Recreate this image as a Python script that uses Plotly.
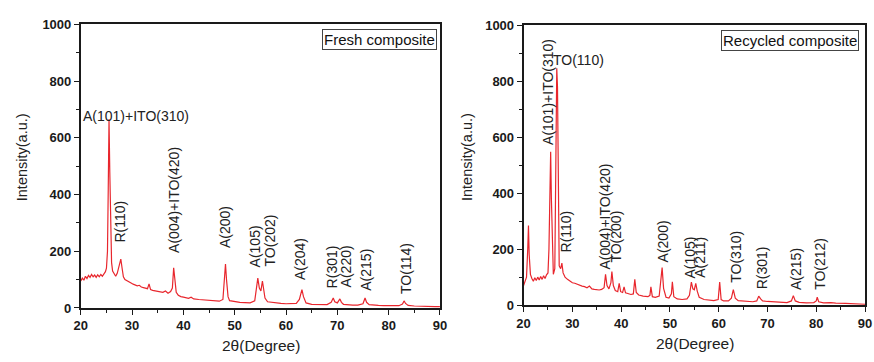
import plotly.graph_objects as go

# ---- Fresh composite XRD pattern (2-theta in degrees, intensity in a.u.) ----
fresh_2theta = [
    20.0, 20.3, 20.6, 20.9, 21.2, 21.5, 21.8, 22.1, 22.4, 22.7,
    23.0, 23.3, 23.6, 23.9, 24.2, 24.5, 24.8, 25.0, 25.2, 25.35,
    25.5, 25.65, 25.8, 26.0, 26.2, 26.5, 26.8, 27.1, 27.3, 27.55,
    27.8, 28.05, 28.3, 28.6, 29.0, 29.4, 29.8, 30.2, 30.6, 31.0,
    31.4, 31.8, 32.2, 32.6, 33.0, 33.3, 33.6, 34.0, 34.5, 35.0,
    35.5, 36.0, 36.5, 37.0, 37.5, 37.85, 38.1, 38.3, 38.6, 39.0,
    39.5, 40.0, 40.5, 41.0, 41.5, 42.0, 43.0, 44.0, 45.0, 46.0,
    47.0, 47.7, 48.0, 48.2, 48.4, 48.7, 49.0, 50.0, 51.0, 52.0,
    53.0, 53.9, 54.2, 54.5, 54.8, 55.1, 55.4, 55.6, 55.9, 56.4,
    57.0, 58.0, 59.0, 60.0, 61.0, 62.0, 62.6, 62.9, 63.1, 63.4,
    63.9, 65.0, 66.0, 67.0, 68.0, 68.8, 69.2, 69.5, 70.0, 70.5,
    70.8, 71.2, 72.0, 73.0, 74.0, 75.0, 75.4, 75.7, 76.2, 77.0,
    78.0, 79.0, 80.0, 81.0, 82.0, 82.7, 83.0, 83.3, 83.8, 85.0,
    86.0, 87.0, 88.0, 89.0, 90.0,
]
fresh_intensity = [
    95, 105, 98, 112, 104, 115, 108, 118, 110, 116,
    108, 117, 110, 118, 112, 120, 128, 140, 200, 420,
    665, 480, 250, 160, 130, 118, 112, 122, 140, 150,
    172, 140, 110, 100, 95, 90, 88, 84, 82, 78,
    80, 74, 72, 70, 68, 85, 65, 62, 60, 58,
    56, 55, 60, 52, 58, 70, 142, 95, 55, 45,
    40, 38, 36, 34, 38, 32, 30, 28, 27, 25,
    24, 30, 95, 155, 100, 40, 26, 22, 20, 19,
    18, 25, 60, 105, 70, 60, 95, 75, 35, 22,
    20, 17, 16, 15, 15, 16, 30, 50, 65, 40,
    18, 13, 12, 12, 12, 20, 35, 22, 18, 32,
    20, 13, 11, 10, 10, 15, 35, 20, 12, 10,
    9, 8, 8, 8, 8, 14, 25, 16, 9, 7,
    6, 6, 6, 5, 5,
]

# ---- Recycled composite XRD pattern ----
recycled_2theta = [
    20.0, 20.3, 20.6, 20.85, 21.0, 21.15, 21.4, 21.7, 22.0, 22.3,
    22.6, 22.9, 23.2, 23.5, 23.8, 24.1, 24.4, 24.7, 25.0, 25.2,
    25.4, 25.55, 25.7, 25.9, 26.1, 26.4, 26.6, 26.8, 26.95, 27.1,
    27.3, 27.6, 27.85, 28.1, 28.5, 29.0, 29.5, 30.0, 30.5, 31.0,
    31.5, 32.0, 32.5, 33.0, 33.5, 34.0, 34.5, 35.0, 35.5, 36.0,
    36.5, 36.8, 37.1, 37.5, 37.9, 38.1, 38.4, 38.8, 39.3, 39.6,
    39.9, 40.3, 40.6, 40.9, 41.5, 42.0, 42.5, 42.8, 43.1, 43.6,
    44.5, 45.5, 45.9, 46.1, 46.4, 47.0, 47.8, 48.2, 48.4, 48.7,
    49.2, 49.8, 50.3, 50.5, 50.8, 51.5, 52.5, 53.5, 54.0, 54.4,
    54.7, 55.0, 55.3, 55.6, 56.0, 57.0, 58.0, 59.0, 59.9, 60.2,
    60.5, 61.0, 62.0, 62.6, 63.0, 63.4, 64.0, 65.0, 66.0, 67.0,
    67.8, 68.2, 68.6, 69.0, 70.0, 71.0, 72.0, 73.0, 74.0, 74.9,
    75.3, 75.7, 76.5, 78.0, 79.5, 80.0, 80.2, 80.5, 81.5, 83.0,
    84.0, 86.0, 88.0, 90.0,
]
recycled_intensity = [
    70, 85, 100, 200, 284, 180, 110, 95, 85, 98,
    88, 100, 90, 102, 92, 105, 95, 108, 115, 200,
    450, 548, 380, 160, 110, 130, 400, 846, 780, 300,
    140, 130, 150, 115, 100, 92, 85, 80, 78, 74,
    72, 68, 66, 62, 68, 58, 56, 55, 54, 56,
    62, 110, 70, 58, 80, 120, 70, 52, 48, 78,
    48, 45, 65, 44, 40, 38, 40, 92, 45, 36,
    32, 30, 35, 65, 30, 28, 32, 90, 134, 60,
    28, 25, 40, 83, 30, 22, 20, 22, 35, 82,
    58, 55, 78, 50, 28, 20, 17, 16, 20, 82,
    20, 15, 15, 25, 55, 25, 16, 14, 13, 12,
    15, 32, 22, 15, 13, 12, 10, 9, 9, 15,
    34, 15, 10, 8, 9, 15, 28, 12, 8, 9,
    7, 6, 5, 3,
]

# ---- Peak labels: (text, 2-theta, intensity at label base) ----
fresh_vertical_labels = ["R(110)", "A(004)+ITO(420)", "A(200)", "A(105)", "TO(202)",
                         "A(204)", "R(301)", "A(220)", "A(215)", "TO(114)"]
fresh_vertical_x = [27.6, 38.3, 48.0, 53.9, 56.8, 62.7, 69.0, 71.6, 75.6, 83.4]
fresh_vertical_y = [223, 186, 206, 135, 138, 91, 61, 64, 54, 41]
fresh_main_label = "A(101)+ITO(310)"
fresh_main_x, fresh_main_y = 20.0, 675

recycled_vertical_labels = ["A(101)+ITO(310)", "R(110)", "A(004)+ITO(420)", "TO(200)",
                            "A(200)", "A(105)", "A(211)", "TO(310)", "R(301)",
                            "A(215)", "TO(212)"]
recycled_vertical_x = [25.0, 28.7, 36.5, 38.9, 48.5, 54.2, 56.2, 63.5, 68.9, 75.7, 80.8]
recycled_vertical_y = [565, 181, 120, 144, 144, 89, 89, 72, 48, 48, 48]
recycled_main_label = "TO(110)"
recycled_main_x, recycled_main_y = 25.7, 877

panel_names = ["Fresh composite", "Recycled composite"]
x_ticks = [20, 30, 40, 50, 60, 70, 80, 90]
y_ticks = [0, 200, 400, 600, 800, 1000]

W, H = 874, 362
RED = "#e8262d"
AXIS = "#1a1a1a"
FONT = "Liberation Sans, Arial, sans-serif"

fig = go.Figure()
fig.add_trace(go.Scatter(x=fresh_2theta, y=fresh_intensity, mode="lines",
                         line=dict(color=RED, width=1.2), xaxis="x", yaxis="y",
                         showlegend=False, hoverinfo="skip"))
fig.add_trace(go.Scatter(x=recycled_2theta, y=recycled_intensity, mode="lines",
                         line=dict(color=RED, width=1.2), xaxis="x2", yaxis="y2",
                         showlegend=False, hoverinfo="skip"))

tick_font = dict(family=FONT, size=13, color="#1a1a1a", weight="bold")


def xaxis_style(domain, anchor):
    return dict(domain=domain, anchor=anchor, range=[20, 90], tickvals=x_ticks,
                ticks="outside", ticklen=5, tickwidth=1.4, tickcolor=AXIS,
                minor=dict(dtick=5, ticks="outside", ticklen=3, tickcolor=AXIS),
                showline=True, linecolor=AXIS, linewidth=1.8, mirror=True,
                showgrid=False, zeroline=False, tickfont=tick_font)


def yaxis_style(domain, anchor):
    return dict(domain=domain, anchor=anchor, range=[0, 1000], tickvals=y_ticks,
                ticks="outside", ticklen=5, tickwidth=1.4, tickcolor=AXIS,
                minor=dict(dtick=100, ticks="outside", ticklen=3, tickcolor=AXIS),
                showline=True, linecolor=AXIS, linewidth=1.8, mirror=True,
                showgrid=False, zeroline=False, tickfont=tick_font)


annotations = []
label_font = dict(family=FONT, size=14, color="#222")

for txt, x, y in zip(fresh_vertical_labels, fresh_vertical_x, fresh_vertical_y):
    annotations.append(dict(text=txt, x=x, y=y, xref="x", yref="y", textangle=-90,
                            xanchor="center", yanchor="bottom", showarrow=False,
                            font=label_font))
annotations.append(dict(text=fresh_main_label, x=fresh_main_x, y=fresh_main_y,
                        xref="x", yref="y", xanchor="left", yanchor="middle",
                        showarrow=False, font=label_font))

for txt, x, y in zip(recycled_vertical_labels, recycled_vertical_x, recycled_vertical_y):
    annotations.append(dict(text=txt, x=x, y=y, xref="x2", yref="y2", textangle=-90,
                            xanchor="center", yanchor="bottom", showarrow=False,
                            font=label_font))
annotations.append(dict(text=recycled_main_label, x=recycled_main_x, y=recycled_main_y,
                        xref="x2", yref="y2", xanchor="left", yanchor="middle",
                        showarrow=False, font=label_font))

# Panel name boxes
box_font = dict(family=FONT, size=15, color="#111")
annotations.append(dict(text=panel_names[0], x=437 / W, y=1 - 34 / H, xref="paper",
                        yref="paper", xanchor="right", yanchor="middle", showarrow=False,
                        font=box_font, bordercolor="#444", borderwidth=1, borderpad=1,
                        bgcolor="white"))
annotations.append(dict(text=panel_names[1], x=866 / W, y=1 - 35 / H, xref="paper",
                        yref="paper", xanchor="right", yanchor="middle", showarrow=False,
                        font=box_font, bordercolor="#444", borderwidth=1, borderpad=1,
                        bgcolor="white"))

# Axis titles
title_font = dict(family=FONT, size=14.5, color="#222")
for cx in (16, 468):
    annotations.append(dict(text="Intensity(a.u.)", x=cx / W, y=1 - 157 / H,
                            xref="paper", yref="paper", textangle=-90,
                            xanchor="center", yanchor="middle", showarrow=False,
                            font=title_font))
for cx, cy in ((258, 353), (699, 351)):
    annotations.append(dict(text="2θ(Degree)", x=cx / W, y=1 - cy / H,
                            xref="paper", yref="paper", xanchor="center",
                            yanchor="middle", showarrow=False,
                            font=dict(family=FONT, size=15.5, color="#222")))

fig.update_layout(
    width=W, height=H, autosize=False,
    margin=dict(l=0, r=0, t=0, b=0),
    paper_bgcolor="white", plot_bgcolor="white",
    xaxis=xaxis_style([75 / W, 440 / W], "y"),
    yaxis=yaxis_style([1 - 314 / H, 1 - 18 / H], "x"),
    xaxis2=xaxis_style([525 / W, 872 / W], "y2"),
    yaxis2=yaxis_style([1 - 311 / H, 1 - 19 / H], "x2"),
    annotations=annotations,
)

fig.write_html("out.html")
